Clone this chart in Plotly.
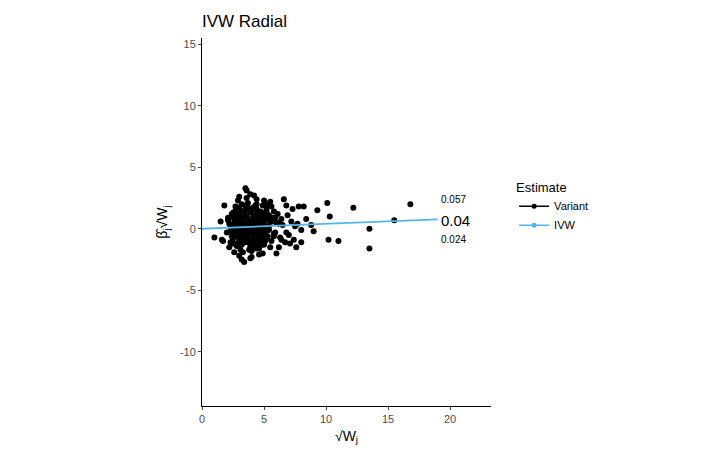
import plotly.graph_objects as go

# sqrt(W_j) and beta_j*sqrt(W_j) per variant
sqrt_w = [
    1.0, 1.5, 1.6, 1.8, 2.0, 2.1, 2.2, 2.3, 2.4, 2.5, 2.6, 2.7, 2.8, 2.9, 3.0,
    3.1, 3.2, 3.3, 3.4, 3.5, 3.6, 3.7, 3.8, 3.9, 4.0, 4.1, 4.2, 4.3, 4.4, 4.5,
    4.6, 4.7, 4.8, 4.9, 5.0, 5.1, 5.2, 5.3, 5.4, 5.5, 5.6, 5.7, 5.8, 5.9, 6.0,
    2.2, 2.4, 2.6, 2.8, 3.0, 3.2, 3.4, 3.6, 3.8, 4.0, 4.2, 4.4, 4.6, 4.8, 5.0,
    2.3, 2.5, 2.7, 2.9, 3.1, 3.3, 3.5, 3.7, 3.9, 4.1, 4.3, 4.5, 4.7, 4.9, 5.1,
    2.1, 2.6, 3.0, 3.4, 3.8, 4.2, 4.6, 5.0, 5.4, 3.2, 3.6, 4.0, 4.4, 2.8, 3.3,
    2.5, 2.9, 3.3, 3.7, 4.1, 4.5, 4.9, 5.3, 5.7, 3.5, 3.9, 4.3, 2.7, 3.1, 3.6,
    2.4, 2.8, 3.2, 3.6, 4.0, 4.4, 4.8, 5.2, 5.6, 6.1, 6.3, 6.5, 6.8, 7.0, 6.2,
    3.0, 3.4, 3.8, 4.2, 4.6, 5.0, 5.5, 6.0, 6.4, 6.7, 7.2, 7.4, 7.7, 6.9, 5.8,
    3.3, 3.7, 4.1, 4.5, 3.5, 3.9, 2.9, 4.7, 5.2, 3.1, 2.3, 1.7, 6.6, 7.3, 7.8,
    8.2, 8.0, 8.4, 7.6, 8.0, 7.5, 9.0, 9.3, 10.1, 10.3, 10.2, 11.0, 12.2, 13.5,
    13.5, 15.5, 16.8, 8.8, 6.8, 7.1, 6.4, 5.9, 3.4, 3.9, 4.3, 2.6, 3.0, 4.8,
    # dense core
    2.5, 2.7, 2.9, 3.1, 3.3, 3.5, 3.7, 3.9, 4.1, 4.3, 4.5, 4.7, 4.9, 5.1, 5.3,
    2.6, 2.8, 3.0, 3.2, 3.4, 3.6, 3.8, 4.0, 4.2, 4.4, 4.6, 4.8, 5.0, 5.2, 5.4,
    2.4, 2.8, 3.2, 3.6, 4.0, 4.4, 4.8, 5.2, 2.7, 3.1, 3.5, 3.9, 4.3, 4.7, 5.1,
    2.9, 3.3, 3.7, 4.1, 4.5, 4.9, 3.0, 3.4, 3.8, 4.2, 4.6, 5.0, 5.5, 5.8, 6.2,
]
beta_sqrt_w = [
    -0.7, 0.6, -0.9, 1.9, -0.3, 0.9, -1.5, 0.2, 1.2, -0.8, 0.5, 1.8, -1.2, 0.3, 2.6,
    -0.5, 1.4, -1.9, 0.8, 3.3, -0.2, 2.1, -1.1, 0.6, -2.3, 1.7, 0.1, -0.9, 2.4, 0.4,
    -1.6, 1.2, -0.4, 1.9, -1.3, 0.7, 1.5, -0.6, 0.2, 2.2, -1.0, 0.9, 1.4, -0.3, 0.5,
    0.4, -0.6, 1.0, -1.4, 0.1, 2.0, -0.8, 1.1, -1.7, 0.7, -0.2, 1.6, -1.2, 0.3, 1.0,
    -0.2, 1.3, -0.4, 0.9, -1.0, 0.5, 1.5, -0.7, 2.8, -1.4, 0.6, -0.5, 0.8, -2.0, 1.3,
    0.7, -1.9, 1.7, 0.2, -0.9, 2.7, -2.1, 0.0, 1.1, -2.5, 3.1, -1.8, 2.0, 0.3, -0.3,
    -1.2, 2.3, 1.0, -0.1, 0.4, 1.0, -1.0, 2.0, 0.6, 1.9, -1.5, -0.4, -0.1, 0.4, 0.9,
    1.0, 0.6, -1.3, 2.5, 1.3, -1.6, 0.1, -0.8, 1.8, 1.2, -0.7, 0.3, 1.9, -0.5, -1.5,
    1.2, 0.0, 0.3, -0.6, 0.5, 2.3, -1.5, -2.0, 0.8, -1.1, 0.6, -0.9, 0.4, 1.1, -0.4,
    -0.8, 1.7, 0.4, -0.3, 1.6, -2.4, 0.2, 1.4, 1.8, -1.7, -1.1, -1.0, 2.4, 1.6, 1.8,
    1.8, -0.1, 0.8, -1.5, -1.1, 0.2, -0.2, 1.5, 2.1, 1.0, -0.9, -1.0, 1.7, -1.6,
    0.0, 0.7, 2.0, 0.3, -0.3, -1.2, -0.9, 0.9, -2.7, 0.1, -1.3, 0.8, -2.2, -0.6,
    0.1, -0.5, 0.7, -0.2, 1.1, -0.7, 0.4, -1.3, 0.9, -0.1, 1.3, -0.8, 0.5, -0.4, 0.8,
    -0.3, 0.8, -0.9, 0.5, -0.5, 0.9, -0.4, 1.4, -0.6, 0.6, 0.0, 0.9, -0.7, 0.2, -0.1,
    0.2, 1.2, -0.2, 1.6, -1.0, 1.1, -1.3, 1.3, 1.5, 1.1, -1.1, 1.5, 1.9, 0.6, -1.0,
    -0.6, -0.7, 0.0, 0.3, -1.5, 0.1, 0.9, 0.3, -0.3, 0.6, 0.2, 0.3, 0.6, -0.6, 0.4,
]

ivw_est = 0.04
ci_labels = ["0.057", "0.04", "0.024"]
ci_y = [2.4, 0.7, -0.9]
line_x = [0, 19]

fig = go.Figure()
fig.add_trace(go.Scatter(
    x=sqrt_w, y=beta_sqrt_w, mode="markers", name="Variant", showlegend=False,
    marker=dict(color="black", size=6)))
fig.add_trace(go.Scatter(
    x=line_x, y=[ivw_est * v for v in line_x], mode="lines", name="IVW", showlegend=False,
    line=dict(color="#56B4E9", width=1.8)))
# legend keys drawn as line+dot like ggplot
fig.add_trace(go.Scatter(x=[None], y=[None], mode="lines+markers", name="Variant",
                         line=dict(color="black", width=1.5), marker=dict(color="black", size=5)))
fig.add_trace(go.Scatter(x=[None], y=[None], mode="lines+markers", name="IVW",
                         line=dict(color="#56B4E9", width=1.5), marker=dict(color="#56B4E9", size=5)))

for lab, yy in zip(ci_labels, ci_y):
    fig.add_annotation(x=19.1, y=yy, text=lab, showarrow=False, xanchor="left",
                       font=dict(size=15 if lab == "0.04" else 10, color="black"))

axfont = dict(size=11, color="#4d4d4d")
fig.update_layout(
    width=720, height=451, plot_bgcolor="white", paper_bgcolor="white",
    margin=dict(l=194, r=237, t=30, b=53, autoexpand=False),
    font=dict(family="Liberation Sans, Arial", size=11, color="#4d4d4d"),
    title=dict(text="IVW Radial", x=0, xref="paper", y=0.985, yanchor="top",
               font=dict(size=17, color="black")),
    legend=dict(title=dict(text="Estimate", font=dict(size=13, color="black")),
                x=1.08, y=0.54, yanchor="middle", font=dict(size=11, color="black")),
    xaxis=dict(range=[0, 23.3], tickvals=[0, 5, 10, 15, 20], showgrid=False, zeroline=False,
               showline=True, linecolor="black", ticks="outside", ticklen=3, tickfont=axfont,
               automargin=False,
               title=dict(text="√W<sub>j</sub>", font=dict(size=14, color="black"), standoff=6)),
    yaxis=dict(range=[-14.4, 15.5], tickvals=[-10, -5, 0, 5, 10, 15],
               ticktext=["-10", "-5", "0", "5", "10", "15"], showgrid=False, zeroline=False,
               showline=True, linecolor="black", ticks="outside", ticklen=3, tickfont=axfont,
               automargin=False,
               title=dict(text="β̂<sub>j</sub>√W<sub>j</sub>", font=dict(size=14, color="black"), standoff=8)),
)

fig.write_html("out.html")
